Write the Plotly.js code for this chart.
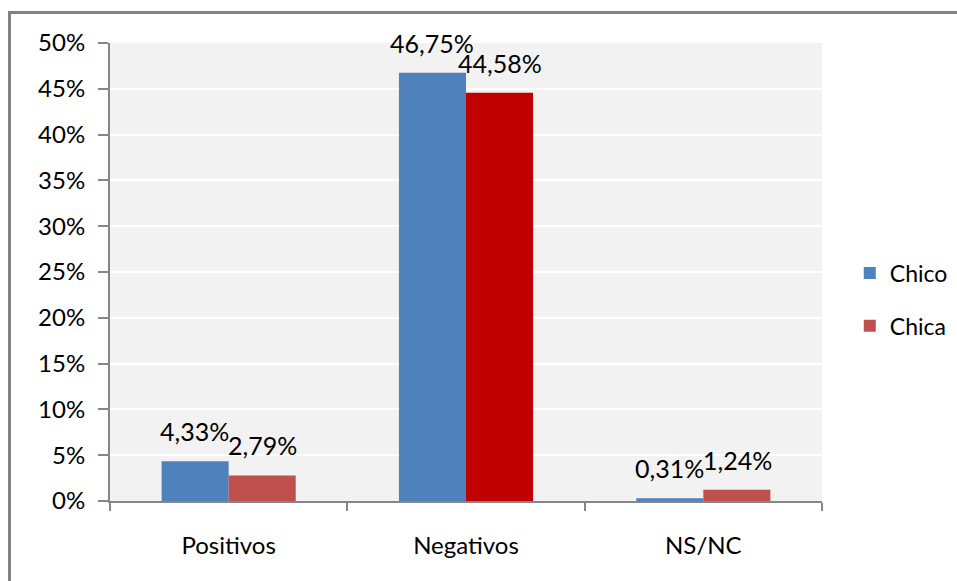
<!DOCTYPE html>
<html>
<head>
<meta charset="utf-8">
<script src="https://cdn.plot.ly/plotly-3.0.1.min.js"></script>
<style>
  html, body { margin: 0; padding: 0; background: #ffffff; }
  #wrap { position: relative; width: 957px; height: 581px; overflow: hidden; }
  #chart { position: absolute; left: 0; top: 0; width: 957px; height: 581px; }
  #frame { position: absolute; left: 8px; top: 11px; width: 960px; height: 580px;
           border-left: 3px solid #828282; border-top: 3px solid #828282; pointer-events: none; }
</style>
</head>
<body>
<div id="wrap">
  <div id="chart"></div>
  <div id="frame"></div>
</div>
<script>
const categories = ["Positivos", "Negativos", "NS/NC"];
const chico = [0.0433, 0.4675, 0.0031];
const chica = [0.0279, 0.4458, 0.0124];
const chicoColor = "#4f81bd";
const chicaColors = ["#c0504d", "#c00000", "#c0504d"];
const seriesNames = ["Chico", "Chica"];

const font = "Lato, 'Open Sans', sans-serif";
const fmt = v => (v * 100).toFixed(2).replace(".", ",") + "%";

const traces = [
  {
    type: "bar", name: seriesNames[0], x: categories, y: chico,
    marker: { color: chicoColor },
    legendgroup: "a", hoverinfo: "skip"
  },
  {
    type: "bar", name: seriesNames[1], x: categories, y: chica,
    marker: { color: chicaColors },
    legendgroup: "b", hoverinfo: "skip"
  }
];

const annotations = [];
categories.forEach((c, i) => {
  annotations.push({ x: c, y: chico[i], xref: "x", yref: "y", text: fmt(chico[i]),
    showarrow: false, xanchor: "center", yanchor: "bottom", xshift: -34, yshift: 13,
    font: { family: font, size: 25, color: "#000000" } });
  annotations.push({ x: c, y: chica[i], xref: "x", yref: "y", text: fmt(chica[i]),
    showarrow: false, xanchor: "center", yanchor: "bottom", xshift: 34, yshift: 13,
    font: { family: font, size: 25, color: "#000000" } });
});

const layout = {
  width: 957, height: 581,
  margin: { l: 110, r: 135, t: 43, b: 80, autoexpand: false },
  paper_bgcolor: "#ffffff",
  plot_bgcolor: "#f2f2f2",
  separators: ",.",
  font: { family: font, size: 24, color: "#000000" },
  barmode: "group",
  bargap: 0.435,
  bargroupgap: 0,
  showlegend: true,
  annotations: annotations,
  legend: {
    x: 1.039, y: 0.44, xanchor: "left", yanchor: "middle",
    font: { family: font, size: 23, color: "#000000" },
    traceorder: "grouped", tracegroupgap: 20,
    bgcolor: "rgba(0,0,0,0)"
  },
  xaxis: {
    type: "category",
    showline: true, linecolor: "#868686", linewidth: 2,
    ticks: "outside", tickson: "boundaries", ticklen: 8, tickcolor: "#868686", tickwidth: 2,
    tickfont: { family: font, size: 24, color: "#000000" },
    ticklabelstandoff: 22,
    showgrid: false, zeroline: false
  },
  yaxis: {
    range: [0, 0.5], tickvals: [0,0.05,0.1,0.15,0.2,0.25,0.3,0.35,0.4,0.45,0.5],
    tickformat: ".0%",
    showline: true, linecolor: "#868686", linewidth: 2,
    ticks: "outside", ticklen: 10, tickcolor: "#868686", tickwidth: 2,
    tickfont: { family: font, size: 24, color: "#000000" },
    ticklabelstandoff: 8,
    showgrid: true, gridcolor: "#ffffff", gridwidth: 2,
    zeroline: false
  }
};

Plotly.newPlot("chart", traces, layout, { staticPlot: true, displayModeBar: false });
</script>
</body>
</html>
